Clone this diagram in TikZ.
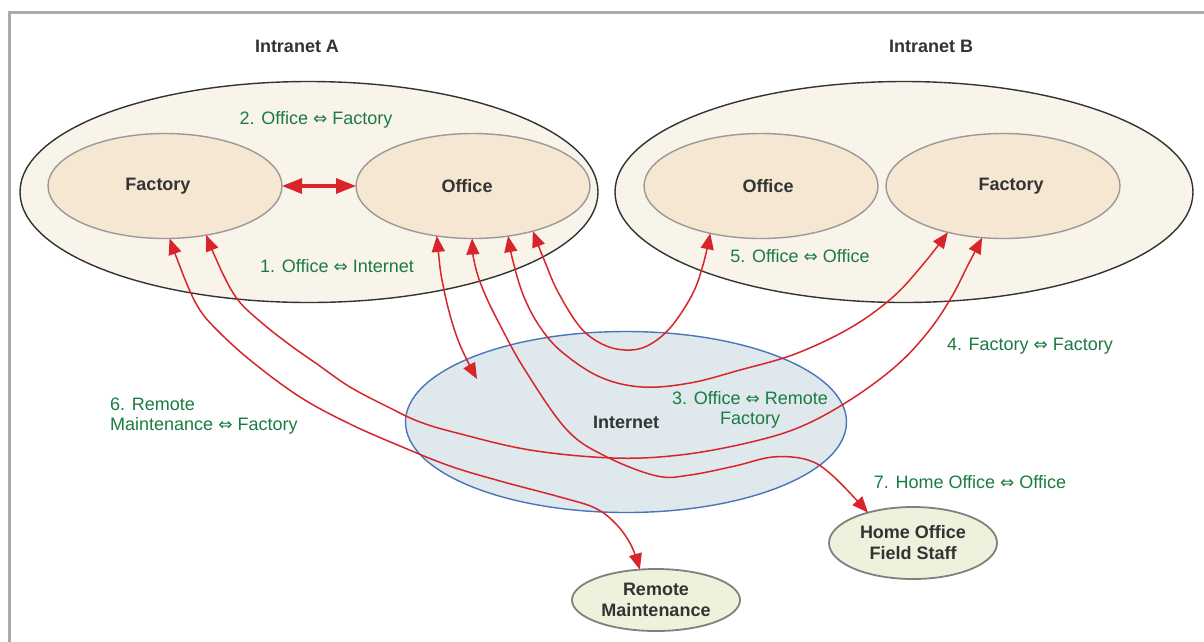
\documentclass[tikz,border=0pt]{standalone}
\usepackage{fontspec}
\setmainfont{Liberation Sans}
\newfontfamily\dejavu{DejaVu Sans}
\usetikzlibrary{arrows.meta,shapes.geometric}
\definecolor{frameline}{HTML}{ABABAB}
\definecolor{outerfill}{HTML}{F8F4EA}
\definecolor{outerline}{HTML}{333333}
\definecolor{innerfill}{HTML}{F5E7D1}
\definecolor{innerline}{HTML}{999999}
\definecolor{inetfill}{HTML}{DEE8ED}
\definecolor{inetline}{HTML}{4A76B8}
\definecolor{sitefill}{HTML}{EEF2DC}
\definecolor{siteline}{HTML}{808080}
\definecolor{darktext}{HTML}{333333}
\definecolor{notegreen}{HTML}{1B7B41}
\definecolor{linkred}{HTML}{D8252B}
\newcommand\dar{{\dejavu\fontsize{17}{17}\selectfont ⇔}}
\tikzset{
  titletext/.style={font=\bfseries\fontsize{18}{22}\selectfont, text=darktext},
  outerbox/.style={ellipse, draw=outerline, fill=outerfill, line width=1.4pt,
    minimum width=578pt, minimum height=221pt, inner sep=0pt, outer sep=0pt},
  innerbox/.style={ellipse, draw=innerline, fill=innerfill, line width=1.4pt,
    minimum width=234pt, minimum height=105pt, inner sep=0pt, outer sep=0pt,
    font=\bfseries\fontsize{18}{22}\selectfont, text=darktext},
  inetbox/.style={ellipse, draw=inetline, fill=inetfill, line width=1.4pt,
    minimum width=441pt, minimum height=181pt, inner sep=0pt, outer sep=0pt,
    font=\bfseries\fontsize{18}{22}\selectfont, text=darktext},
  sitebox/.style={ellipse, draw=siteline, fill=sitefill, line width=1.8pt,
    inner sep=0pt, outer sep=0pt, align=center,
    font=\bfseries\fontsize{18}{21}\selectfont, text=darktext},
  note/.style={font=\fontsize{18}{20}\selectfont, text=notegreen, align=center, inner sep=0pt},
  bigarrow/.style={draw=linkred, line width=3.2pt,
    {Triangle[length=20pt,width=15pt]}-{Triangle[length=20pt,width=15pt]}},
  conn/.style={draw=linkred, line width=1.5pt,
    {Triangle[length=16pt,width=13pt]}-{Triangle[length=16pt,width=13pt]}},
}
\begin{document}
\begin{tikzpicture}[x=1pt,y=-1pt]
\useasboundingbox (0,0) rectangle (1204,641);
\fill[white] (0,0) rectangle (1204,641);
\draw[frameline, line width=3pt] (9,643) -- (9,12) -- (1206,12);

\node[titletext] (tA) at (297,46) {Intranet A};
\node[titletext] (tB) at (931,46) {Intranet B};

\node[outerbox] (intA) at (309,192) {};
\node[outerbox] (intB) at (904,192) {};

\node[innerbox] (facA) at (165,186) {Factory\hspace*{14pt}};
\node[innerbox] (offA) at (473,186) {Office\hspace*{12pt}};
\node[innerbox] (offB) at (761,186) {\hspace*{14pt}Office};
\node[innerbox] (facB) at (1003,186) {\hspace*{16pt}Factory};

\node[inetbox] (inet) at (626,422) {Internet};

\node[sitebox, minimum width=168pt, minimum height=62pt] (remote) at (656,600) {Remote\\Maintenance};
\node[sitebox, minimum width=168pt, minimum height=72pt] (home) at (913,543) {Home Office\\Field Staff};

\node[note] (l2) at (316,120) {2. Office \dar{} Factory};
\node[note] (l1) at (337,266) {1. Office \dar{} Internet};
\node[note] (l5) at (800,256) {5. Office \dar{} Office};
\node[note] (l4) at (1030,346) {4. Factory \dar{} Factory};
\node[note] (l3) at (750,410) {3. Office \dar{} Remote\\Factory};
\node[note, align=left, anchor=west] (l6) at (110,416) {6. Remote\\Maintenance \dar{} Factory};
\node[note] (l7) at (970,482) {7. Home Office \dar{} Office};

\coordinate (inetTip) at (477,379);

% 2. Office <-> Factory
\draw[bigarrow] (facA.east) -- (offA.west);

% 1. Office <-> Internet
\draw[conn] plot[smooth, tension=0.6] coordinates {(offA.-126) (444,290) (458,340) (inetTip)};

% 7. Home Office <-> Office
\draw[conn] plot[smooth, tension=0.6] coordinates {(offA.-91) (475,265) (484,292) (500,325) (525,370) (567,430) (607,457) (657,476) (690,475) (735,466) (773,457) (808,460) (833,476) (home.146)};

% 3. Office <-> Remote Factory
\draw[conn] plot[smooth, tension=0.6] coordinates {(offA.-55) (514,265) (524,297) (540,327) (562,352) (600,377) (642,387) (690,383) (740,370) (795,354) (850,328) (893,297) (925,262) (facB.-140)};

% 5. Office <-> Office
\draw[conn] plot[smooth, tension=0.6] coordinates {(offA.-37) (545,262) (558,292) (580,327) (602,344) (625,350) (647,346) (670,328) (692,295) (703,265) (offB.-137)};

% 4. Factory <-> Factory
\draw[conn] plot[smooth, tension=0.6] coordinates {(facA.-50) (221,270) (238,300) (262,323) (290,345) (317,364) (350,387) (390,408) (420,422) (457,433) (530,450) (613,458) (680,455) (747,443) (800,427) (850,400) (896,366) (928,332) (951,298) (968,265) (facB.-112)};

% 6. Remote Maintenance <-> Factory
\draw[conn] plot[smooth, tension=0.6] coordinates {(facA.-85) (184,277) (198,307) (215,328) (250,360) (300,397) (350,424) (400,446) (450,466) (500,481) (560,497) (595,508) (616,524) (631,545) (remote.118)};
\end{tikzpicture}
\end{document}
